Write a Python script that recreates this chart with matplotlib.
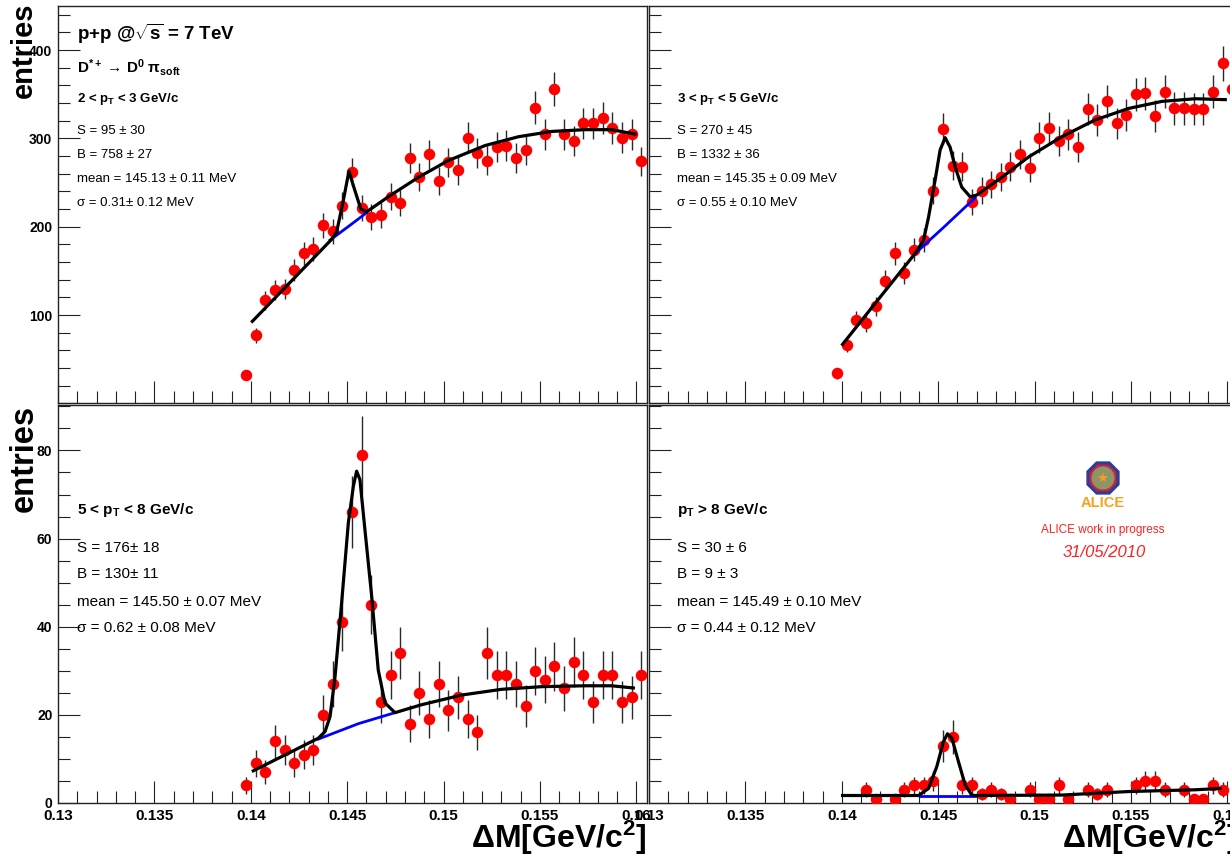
import numpy as np
import matplotlib

matplotlib.use("Agg")
import matplotlib.pyplot as plt
from matplotlib.patches import RegularPolygon, Circle
from matplotlib.ticker import MultipleLocator

plt.rcParams["font.family"] = ["Liberation Sans", "DejaVu Sans"]
plt.rcParams["mathtext.fontset"] = "custom"
plt.rcParams["mathtext.rm"] = "Liberation Sans"
plt.rcParams["mathtext.it"] = "Liberation Sans:italic"
plt.rcParams["mathtext.bf"] = "Liberation Sans:bold"

W, H = 1230, 858

# bin centres of the delta-M histograms (GeV/c^2)
bin_centres = [
    0.13975, 0.14025, 0.14075, 0.14125, 0.14175, 0.14225, 0.14275, 0.14325,
    0.14375, 0.14425, 0.14475, 0.14525, 0.14575, 0.14625, 0.14675, 0.14725,
    0.14775, 0.14825, 0.14875, 0.14925, 0.14975, 0.15025, 0.15075, 0.15125,
    0.15175, 0.15225, 0.15275, 0.15325, 0.15375, 0.15425, 0.15475, 0.15525,
    0.15575, 0.15625, 0.15675, 0.15725, 0.15775, 0.15825, 0.15875, 0.15925,
    0.15975, 0.16025,
]

# entries per bin, one list per pT interval
counts_pt23 = [32, 77, 117, 129, 130, 151, 170, 175, 202, 195, 224, 262, 221, 211,
               213, 234, 227, 278, 256, 282, 252, 273, 264, 301, 284, 275, 290, 292,
               278, 287, 335, 305, 356, 305, 297, 317, 317, 323, 312, 301, 305, 274]
counts_pt35 = [34, 66, 95, 91, 110, 139, 170, 148, 174, 185, 241, 311, 269, 268,
               228, 241, 248, 256, 268, 282, 267, 301, 312, 297, 305, 290, 333, 321,
               342, 317, 327, 350, 351, 325, 353, 334, 334, 333, 333, 353, 385, 356]
counts_pt58 = [4, 9, 7, 14, 12, 9, 11, 12, 20, 27, 41, 66, 79, 45,
               23, 29, 34, 18, 25, 19, 27, 21, 24, 19, 16, 34, 29, 29,
               27, 22, 30, 28, 31, 26, 32, 29, 23, 29, 29, 23, 24, 29]
counts_pt8 = [0, 0, 0, 3, 1, 0, 1, 3, 4, 4, 5, 13, 15, 4,
              4, 2, 3, 2, 1, 0, 3, 1, 1, 4, 1, 0, 3, 2,
              3, 0, 0, 4, 5, 5, 3, 0, 3, 1, 1, 4, 3, 0]

# total fit (signal + background)
fit_x_pt23 = [0.14008, 0.14212, 0.14420, 0.14445, 0.14480, 0.14509, 0.14540, 0.14571,
              0.14601, 0.14713, 0.14869, 0.15024, 0.15215, 0.15388, 0.15561, 0.15733,
              0.15872, 0.15993]
fit_y_pt23 = [93, 139, 186, 194, 230, 263, 241, 220, 217, 234, 256, 275, 292, 302,
              308, 310, 310, 305]
fit_x_pt35 = [0.14004, 0.14190, 0.14381, 0.14424, 0.14450, 0.14484, 0.14510, 0.14536,
              0.14562, 0.14588, 0.14622, 0.14666, 0.14700, 0.14830, 0.14968, 0.15141,
              0.15314, 0.15487, 0.15660, 0.15833, 0.15989]
fit_y_pt35 = [67, 118, 170, 185, 211, 253, 287, 301, 290, 268, 245, 234, 236, 256,
              279, 302, 321, 334, 342, 345, 344]
fit_x_pt58 = [0.14013, 0.14177, 0.14350, 0.14385, 0.14411, 0.14437, 0.14471, 0.14506,
              0.14532, 0.14549, 0.14566, 0.14592, 0.14627, 0.14661, 0.14696, 0.14748,
              0.14886, 0.15094, 0.15301, 0.15509, 0.15733, 0.15872, 0.15984]
fit_y_pt58 = [7.3, 10.9, 14.7, 16.2, 19.6, 28.7, 45.4, 63.6, 71.9, 75.3, 73.4, 62.0,
              46.9, 30.2, 22.7, 20.5, 22.3, 24.5, 25.8, 26.4, 26.6, 26.6, 26.1]
fit_x_pt8 = [0.14004, 0.14398, 0.14450, 0.14493, 0.14527, 0.14548, 0.14571, 0.14605,
             0.14640, 0.14674, 0.14691, 0.15141, 0.15487, 0.15833, 0.15963]
fit_y_pt8 = [1.7, 1.7, 3.3, 8.3, 13.9, 15.7, 14.7, 9.4, 4.1, 1.8, 1.7, 1.8, 2.6, 3.0, 3.3]

# background only, under the peak
bg_x_pt23 = [0.14411, 0.14510, 0.14601]
bg_y_pt23 = [185, 201, 216]
bg_x_pt35 = [0.14381, 0.14536, 0.14692]
bg_y_pt35 = [170, 201, 233]
bg_x_pt58 = [0.14350, 0.14558, 0.14748]
bg_y_pt58 = [14.5, 18.0, 20.5]
bg_x_pt8 = [0.14406, 0.14691]
bg_y_pt8 = [1.7, 1.7]

# axis ticks
x_ticks = [0.13, 0.135, 0.14, 0.145, 0.15, 0.155, 0.16]
x_tick_labels = ["0.13", "0.135", "0.14", "0.145", "0.15", "0.155", "0.16"]
y_ticks_top = [0, 100, 200, 300, 400]
y_tick_labels_top = ["", "100", "200", "300", "400"]
y_ticks_bottom = [0, 20, 40, 60, 80]
y_tick_labels_bottom = ["0", "20", "40", "60", "80"]

# fit results printed in each pad
pt_labels = ["2 < p$_{\\mathbf{T}}$ < 3 GeV/c", "3 < p$_{\\mathbf{T}}$ < 5 GeV/c",
             "5 < p$_{\\mathbf{T}}$ < 8 GeV/c", "p$_{\\mathbf{T}}$ > 8 GeV/c"]
fit_texts = [
    ["S = 95 ± 30", "B = 758 ± 27", "mean = 145.13 ± 0.11 MeV", "σ = 0.31± 0.12 MeV"],
    ["S = 270 ± 45", "B = 1332 ± 36", "mean = 145.35 ± 0.09 MeV", "σ = 0.55 ± 0.10 MeV"],
    ["S = 176± 18", "B = 130± 11", "mean = 145.50 ± 0.07 MeV", "σ = 0.62 ± 0.08 MeV"],
    ["S = 30 ± 6", "B = 9 ± 3", "mean = 145.49 ± 0.10 MeV", "σ = 0.44 ± 0.12 MeV"],
]

fig = plt.figure(figsize=(W / 100, H / 100), dpi=100)
fig.patch.set_facecolor("white")


def axes_px(x0, y0, x1, y1):
    return fig.add_axes([x0 / W, 1 - y1 / H, (x1 - x0) / W, (y1 - y0) / H])


def ftext(x, y, s, **kw):
    return fig.text(x / W, 1 - y / H, s, **kw)


def draw_pad(ax, counts, fx, fy, bx, by, ymax, yticks, ylabels, yminor, show_y, show_x):
    cnt = np.array(counts, dtype=float)
    xs = np.array(bin_centres)
    keep = cnt > 0
    ax.errorbar(xs[keep], cnt[keep], yerr=np.sqrt(cnt[keep]), fmt="o", color="red",
                ms=8.3, mew=0, ecolor="#2a2a2a", elinewidth=1.0, capsize=0, zorder=3)
    ax.plot(bx, by, color="#0000ff", lw=2.0, zorder=4)
    ax.plot(fx, fy, color="black", lw=2.3, zorder=5)

    ax.set_xlim(0.13, 0.16055)
    ax.set_ylim(0, ymax)
    ax.set_xticks(x_ticks, x_tick_labels, fontweight="bold", fontsize=11)
    ax.set_yticks(yticks, ylabels, fontweight="bold", fontsize=10)
    ax.xaxis.set_minor_locator(MultipleLocator(0.001))
    ax.yaxis.set_minor_locator(MultipleLocator(yminor))
    ax.tick_params(which="both", direction="in", top=False, right=False,
                   width=0.8, color="#222222")
    ax.tick_params(which="major", length=16)
    ax.tick_params(which="minor", length=8.5)
    ax.tick_params(axis="x", pad=4, labelbottom=show_x)
    ax.tick_params(axis="y", pad=4, labelleft=show_y)
    for sp in ax.spines.values():
        sp.set_linewidth(1.0)
        sp.set_color("#222222")


ax_tl = axes_px(58, 6, 647, 403.5)
ax_tr = axes_px(649, 6, 1238, 403.5)
ax_bl = axes_px(58, 405.5, 647, 803)
ax_br = axes_px(649, 405.5, 1238, 803)

draw_pad(ax_tl, counts_pt23, fit_x_pt23, fit_y_pt23, bg_x_pt23, bg_y_pt23,
         450, y_ticks_top, y_tick_labels_top, 20, True, False)
draw_pad(ax_tr, counts_pt35, fit_x_pt35, fit_y_pt35, bg_x_pt35, bg_y_pt35,
         450, y_ticks_top, y_tick_labels_top, 20, False, False)
draw_pad(ax_bl, counts_pt58, fit_x_pt58, fit_y_pt58, bg_x_pt58, bg_y_pt58,
         90.2, y_ticks_bottom, y_tick_labels_bottom, 5, True, True)
draw_pad(ax_br, counts_pt8, fit_x_pt8, fit_y_pt8, bg_x_pt8, bg_y_pt8,
         90.2, y_ticks_bottom, y_tick_labels_bottom, 5, False, True)

# header of the first pad
ftext(77, 40, "p+p @$\\sqrt{\\mathbf{s}}$ = 7 TeV", fontsize=13.5, fontweight="bold", va="baseline")
ftext(77, 73, "D$^{\\mathbf{*+}}$ → D$^{\\mathbf{0}}$ π$_{\\mathbf{soft}}$", fontsize=11,
      fontweight="bold", va="baseline")

# pT bin and fit results
pads = [(77, 102.3, [134, 158.3, 182.3, 205.7], 9.5),
        (677, 102.3, [134, 158.3, 182.3, 205.7], 9.5),
        (77, 514, [551.7, 578.3, 605.7, 632.3], 11),
        (677, 514, [551.7, 578.3, 605.7, 632.3], 11)]
for (x, y_pt, ys, fs), pt_lab, lines in zip(pads, pt_labels, fit_texts):
    ftext(x, y_pt, pt_lab, fontsize=fs, fontweight="bold", va="baseline")
    for y, s in zip(ys, lines):
        ftext(x, y, s, fontsize=fs, va="baseline")

# axis titles
ftext(24, 3, "entries", rotation=90, ha="center", va="top", fontsize=21, fontweight="bold")
ftext(24, 405, "entries", rotation=90, ha="center", va="top", fontsize=23.5, fontweight="bold")
ftext(647, 848, "ΔM[GeV/c$^{\\mathbf{2}}$]", ha="right", va="baseline", fontsize=23,
      fontweight="bold")
ftext(1238, 848, "ΔM[GeV/c$^{\\mathbf{2}}$]", ha="right", va="baseline", fontsize=23,
      fontweight="bold")

# ALICE logo and preliminary label
ax_logo = axes_px(1085, 460, 1121, 496)
ax_logo.set_xlim(-1, 1)
ax_logo.set_ylim(-1, 1)
ax_logo.set_aspect("equal")
ax_logo.axis("off")
ax_logo.add_patch(RegularPolygon((0, 0), 8, radius=1.0, orientation=np.pi / 8,
                                 facecolor="#2d3c97", edgecolor="none"))
ax_logo.add_patch(RegularPolygon((0, 0), 8, radius=0.8, orientation=np.pi / 8,
                                 facecolor="#d4213a", edgecolor="none"))
ax_logo.add_patch(Circle((0, 0), 0.64, facecolor="#8d9466", edgecolor="none"))
ax_logo.plot([0], [0], marker="*", ms=8, color="#f39c2a", mew=0)

ftext(1103, 507, "ALICE", ha="center", va="baseline", fontsize=10.5, fontweight="bold",
      color="#f6a21c")
ftext(1103, 533, "ALICE work in progress", ha="center", va="baseline", fontsize=8.5,
      color="#ff2020")
ftext(1104, 557, "31/05/2010", ha="center", va="baseline", fontsize=12, style="italic",
      color="#ff2020")

fig.savefig("out.png", dpi=100, facecolor="white")
